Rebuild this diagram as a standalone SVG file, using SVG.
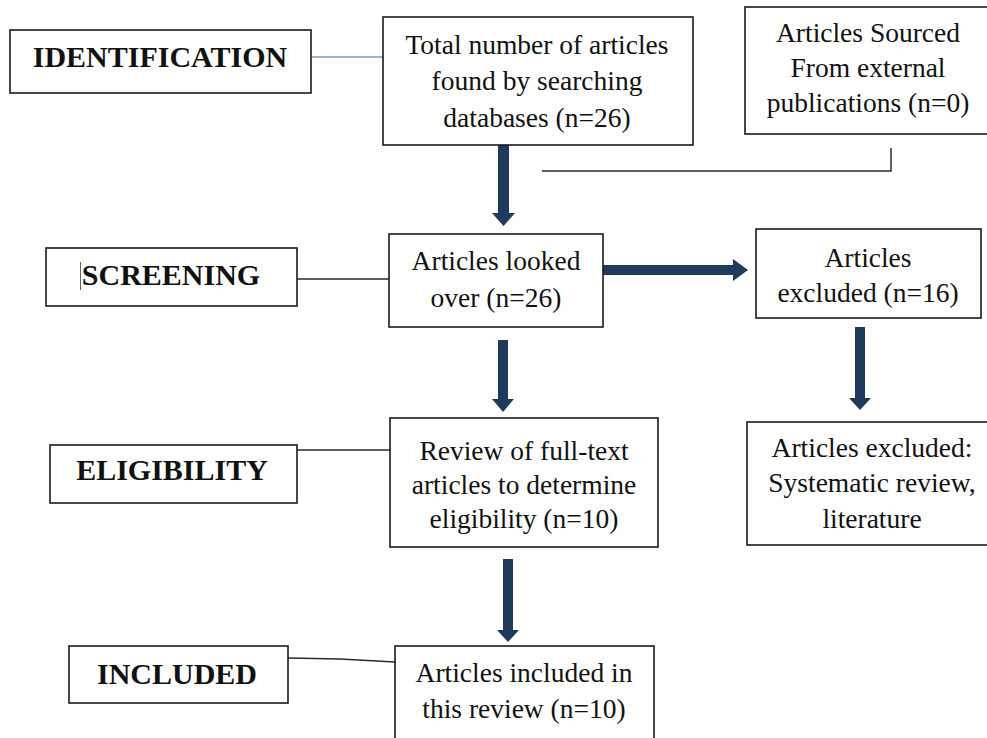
<svg xmlns="http://www.w3.org/2000/svg" width="987" height="738" viewBox="0 0 987 738">
<style>
.box{fill:#fff;stroke:#1a1a1a;stroke-width:1.6}
.lbl{font-family:"Liberation Serif","Times New Roman",serif;font-weight:bold;font-size:30px;fill:#111;text-anchor:middle}
.txt{font-family:"Liberation Serif","Times New Roman",serif;font-size:27.5px;fill:#111;text-anchor:middle}
.ln{stroke:#2a2a2a;stroke-width:1.5;fill:none}
.arr{fill:#1f3a5a}
</style>
<rect width="987" height="738" fill="#fff"/>
<g id="connectors">
<line x1="312" y1="57" x2="383" y2="57" stroke="#7f9bb8" stroke-width="1.5"/>
<line class="ln" x1="297" y1="279" x2="389" y2="279"/>
<line class="ln" x1="297" y1="450" x2="390" y2="450"/>
<polyline class="ln" points="288,658 340,659 395,662"/>
<polyline class="ln" points="891,148 891,171 542,171"/>
<polygon class="arr" points="498,145 509,145 509,213 515,213 503.5,226 492,213 498,213"/>
<polygon class="arr" points="603,265 733,265 733,259 748,270 733,281 733,275 603,275"/>
<polygon class="arr" points="498,340 508,340 508,399 514,399 503,412 492,399 498,399"/>
<polygon class="arr" points="855,327 865,327 865,398 871,398 860,410 849,398 855,398"/>
<polygon class="arr" points="503,559 513,559 513,630 519,630 508,642 497,630 503,630"/>
</g>
<g id="identification">
<rect class="box" x="10" y="30" width="301" height="63"/>
<text class="lbl" x="160" y="67">IDENTIFICATION</text>
</g>
<g id="screening">
<rect class="box" x="46" y="248" width="251" height="58"/>
<line x1="80.5" y1="262" x2="80.5" y2="290" stroke="#666" stroke-width="1"/>
<text class="lbl" x="171" y="285">SCREENING</text>
</g>
<g id="eligibility">
<rect class="box" x="50" y="445" width="247" height="58"/>
<text class="lbl" x="172" y="480">ELIGIBILITY</text>
</g>
<g id="included">
<rect class="box" x="69" y="646" width="219" height="57"/>
<text class="lbl" x="177" y="684">INCLUDED</text>
</g>
<g id="total">
<rect class="box" x="383" y="17" width="310" height="128"/>
<text class="txt" x="537" y="54">Total number of articles</text>
<text class="txt" x="537" y="90">found by searching</text>
<text class="txt" x="537" y="127">databases (n=26)</text>
</g>
<g id="external">
<rect class="box" x="745" y="7" width="250" height="127"/>
<text class="txt" x="868" y="42">Articles Sourced</text>
<text class="txt" x="868" y="77">From external</text>
<text class="txt" x="868" y="112">publications (n=0)</text>
</g>
<g id="lookedover">
<rect class="box" x="389" y="234" width="214" height="93"/>
<text class="txt" x="496" y="270">Articles looked</text>
<text class="txt" x="496" y="307">over (n=26)</text>
</g>
<g id="excluded16">
<rect class="box" x="756" y="229" width="225" height="89"/>
<text class="txt" x="868" y="267">Articles</text>
<text class="txt" x="868" y="302">excluded (n=16)</text>
</g>
<g id="review">
<rect class="box" x="390" y="418" width="268" height="129"/>
<text class="txt" x="524" y="460">Review of full-text</text>
<text class="txt" x="524" y="494">articles to determine</text>
<text class="txt" x="524" y="528">eligibility (n=10)</text>
</g>
<g id="excludedreasons">
<rect class="box" x="747" y="422" width="250" height="123"/>
<text class="txt" x="872" y="457">Articles excluded:</text>
<text class="txt" x="872" y="492">Systematic review,</text>
<text class="txt" x="872" y="528">literature</text>
</g>
<g id="includedreview">
<rect class="box" x="395" y="646" width="259" height="100"/>
<text class="txt" x="524" y="682">Articles included in</text>
<text class="txt" x="524" y="718">this review (n=10)</text>
</g>
</svg>
